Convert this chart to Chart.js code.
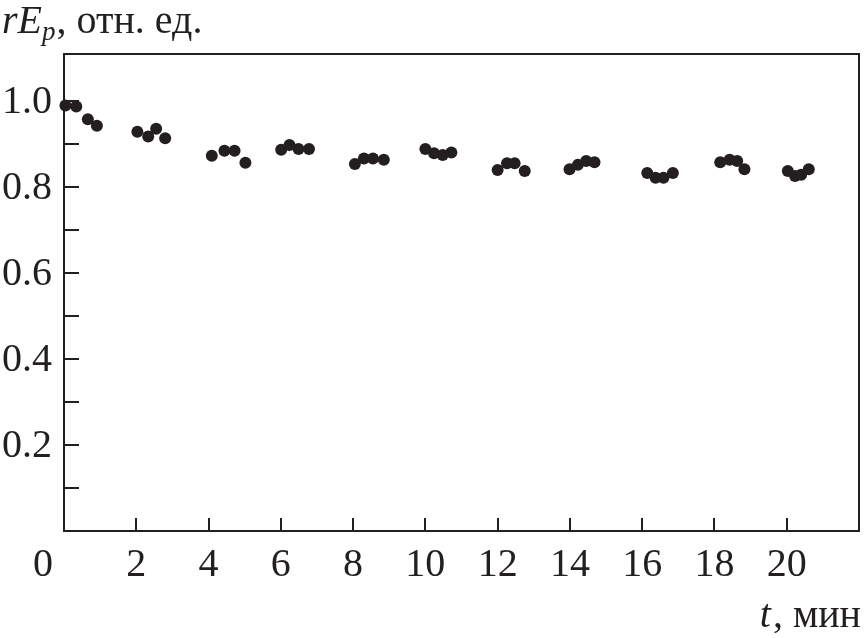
<!DOCTYPE html>
<html>
<head>
<meta charset="utf-8">
<script src="https://cdn.jsdelivr.net/npm/chart.js@4.4.1/dist/chart.umd.min.js"></script>
<style>
  html, body { margin: 0; padding: 0; background: #fff; }
  canvas { display: block; }
</style>
</head>
<body>
<canvas id="chart" width="867" height="638"></canvas>
<script>
// Time, min
const timeMin = [
    0.04, 0.34, 0.66, 0.91,
    2.03, 2.33, 2.55, 2.80,
    4.09, 4.44, 4.72, 5.02,
    6.01, 6.24, 6.49, 6.78,
    8.05, 8.30, 8.55, 8.85,
    10.00, 10.24, 10.48, 10.72,
    12.00, 12.26, 12.47, 12.75,
    13.99, 14.22, 14.45, 14.68,
    16.14, 16.37, 16.59, 16.85,
    18.16, 18.42, 18.63, 18.83,
    20.03, 20.23, 20.40, 20.61
];
// rEp, relative units
const rEp = [
    0.990, 0.988, 0.958, 0.943,
    0.929, 0.918, 0.936, 0.914,
    0.873, 0.885, 0.885, 0.857,
    0.887, 0.898, 0.889, 0.889,
    0.854, 0.867, 0.867, 0.864,
    0.889, 0.879, 0.875, 0.881,
    0.840, 0.856, 0.856, 0.838,
    0.842, 0.852, 0.861, 0.858,
    0.833, 0.822, 0.822, 0.833,
    0.858, 0.864, 0.861, 0.842,
    0.838, 0.826, 0.829, 0.842
];
const xTicks = [0, 2, 4, 6, 8, 10, 12, 14, 16, 18, 20];
const yMinorTicks = [0.1, 0.2, 0.3, 0.4, 0.5, 0.6, 0.7, 0.8, 0.9, 1.0];
const yLabels = ['0.2', '0.4', '0.6', '0.8', '1.0'];

const INK = '#231f20';
const SERIF = '"Liberation Serif", "DejaVu Serif", serif';

// frame, inward ticks, tick labels and axis titles
const axesPlugin = {
    id: 'axesPlugin',
    beforeDatasetsDraw(chart) {
        const { ctx, chartArea: a, scales: { x, y } } = chart;
        ctx.save();
        ctx.strokeStyle = INK;
        ctx.lineWidth = 2;
        ctx.strokeRect(a.left, a.top, a.right - a.left, a.bottom - a.top);

        ctx.beginPath();
        for (const v of yMinorTicks) {
            const py = Math.round(y.getPixelForValue(v));
            ctx.moveTo(a.left, py);
            ctx.lineTo(a.left + 15, py);
        }
        for (const v of xTicks) {
            if (v === 0) continue;
            const px = Math.round(x.getPixelForValue(v));
            ctx.moveTo(px, a.bottom);
            ctx.lineTo(px, a.bottom - 13);
        }
        ctx.stroke();

        ctx.fillStyle = INK;
        ctx.font = '40px ' + SERIF;
        ctx.textBaseline = 'middle';
        ctx.textAlign = 'right';
        for (const s of yLabels) {
            ctx.fillText(s, 52, y.getPixelForValue(Number(s)) + 1);
        }
        ctx.textAlign = 'center';
        for (const v of xTicks) {
            const px = v === 0 ? 43 : x.getPixelForValue(v);
            ctx.fillText(String(v), px, 565);
        }

        // y title: rEp, отн. ед.
        ctx.textBaseline = 'alphabetic';
        ctx.textAlign = 'left';
        let cx = 2;
        ctx.font = 'italic 40px ' + SERIF;
        ctx.fillText('rE', cx, 33);
        cx += ctx.measureText('rE').width;
        ctx.font = 'italic 27px ' + SERIF;
        ctx.fillText('p', cx, 40);
        cx += ctx.measureText('p').width + 1;
        ctx.font = '40px ' + SERIF;
        ctx.fillText(', отн. ед.', cx, 33);

        // x title: t, мин
        ctx.textAlign = 'right';
        ctx.font = '40px ' + SERIF;
        const rest = ', мин';
        ctx.fillText(rest, 861, 627);
        const rw = ctx.measureText(rest).width;
        ctx.font = 'italic 40px ' + SERIF;
        ctx.fillText('t', 861 - rw - 2, 627);
        ctx.restore();
    }
};

const points = timeMin.map((t, i) => ({ x: t, y: rEp[i] }));

new Chart(document.getElementById('chart'), {
    type: 'scatter',
    data: {
        datasets: [{
            data: points,
            backgroundColor: INK,
            borderColor: INK,
            borderWidth: 0,
            pointRadius: 6,
            clip: false
        }]
    },
    options: {
        responsive: false,
        animation: false,
        layout: { padding: { top: 54, right: 8, left: 0, bottom: 0 } },
        plugins: { legend: { display: false }, tooltip: { enabled: false } },
        scales: {
            x: {
                type: 'linear', min: 0, max: 22,
                grid: { display: false }, border: { display: false },
                ticks: { display: false },
                afterFit(s) { s.height = 107; }
            },
            y: {
                type: 'linear', min: 0, max: 1.11,
                grid: { display: false }, border: { display: false },
                ticks: { display: false },
                afterFit(s) { s.width = 64; }
            }
        }
    },
    plugins: [axesPlugin]
});
</script>
</body>
</html>
